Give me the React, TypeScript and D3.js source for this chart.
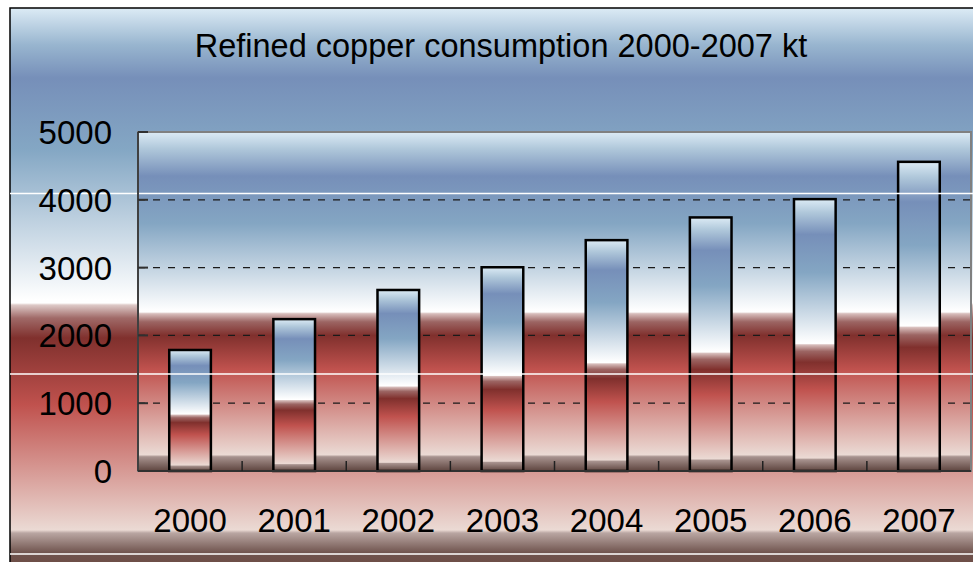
import React from 'react';
import * as d3 from 'd3';

const years = ['2000', '2001', '2002', '2003', '2004', '2005', '2006', '2007'];
const consumption = [1785, 2240, 2670, 3005, 3405, 3740, 4010, 4560];
const yTicks = [0, 1000, 2000, 3000, 4000, 5000];
const title = 'Refined copper consumption 2000-2007 kt';

const W = 973;
const H = 562;
const plot = { left: 138, right: 971, top: 132, bottom: 471 };

// gradient stops for plot area and bars (object bounding box)
const barStops: [number, string][] = [
  [0, '#DCEBF5'],
  [0.05, '#AFC7DA'],
  [0.13, '#768FB9'],
  [0.27, '#84A6C3'],
  [0.528, '#FFFFFF'],
  [0.531, '#FFFFFF'],
  [0.536, '#D8BEBC'],
  [0.56, '#9C6563'],
  [0.6, '#80302D'],
  [0.7, '#C0524E'],
  [0.952, '#EBDAD4'],
  [0.958, '#A8938F'],
  [1, '#5E453F'],
];

// outer chart area gradient (absolute y positions)
const outerStops: [number, string][] = [
  [8, '#DCEBF5'],
  [45, '#98B5CF'],
  [78, '#768FB9'],
  [150, '#84A7C4'],
  [300, '#FFFFFF'],
  [303, '#FFFFFF'],
  [305, '#DECAC8'],
  [318, '#A06A68'],
  [338, '#80302D'],
  [405, '#C0524E'],
  [530, '#EBDAD4'],
  [533, '#B9A6A2'],
  [553, '#6F534D'],
  [562, '#6E4F48'],
];

export default function App() {
  const x = d3
    .scaleBand<string>()
    .domain(years)
    .range([plot.left, plot.right])
    .paddingInner(0.6)
    .paddingOuter(0.3);
  const y = d3.scaleLinear().domain([0, 5000]).range([plot.bottom, plot.top]);
  const step = x.step();
  const font = "'Liberation Sans', Arial, Helvetica, sans-serif";

  const oy0 = 8;
  const oy1 = 562;

  return (
    <svg
      width={W}
      height={H}
      style={{ position: 'absolute', left: 0, top: 0, display: 'block' }}
      xmlns="http://www.w3.org/2000/svg"
    >
      <defs>
        <linearGradient id="outerGrad" gradientUnits="userSpaceOnUse" x1={0} y1={oy0} x2={0} y2={oy1}>
          {outerStops.map(([p, c], i) => (
            <stop key={i} offset={(p - oy0) / (oy1 - oy0)} stopColor={c} />
          ))}
        </linearGradient>
        <linearGradient id="barGrad" x1={0} y1={0} x2={0} y2={1}>
          {barStops.map(([p, c], i) => (
            <stop key={i} offset={p} stopColor={c} />
          ))}
        </linearGradient>
      </defs>
      <rect x={0} y={0} width={W} height={H} fill="#ffffff" />
      {/* outer chart area */}
      <rect x={10} y={8} width={W + 20} height={H + 20} fill="url(#outerGrad)" stroke="#000" strokeWidth={1.5} />

      {/* plot area */}
      <rect
        x={plot.left}
        y={plot.top}
        width={plot.right - plot.left}
        height={plot.bottom - plot.top}
        fill="url(#barGrad)"
        stroke="#808080"
        strokeWidth={2}
      />

      {/* gridlines */}
      {yTicks
        .filter((t) => t > 0 && t < 5000)
        .map((t) => (
          <line
            key={t}
            x1={plot.left}
            x2={plot.right}
            y1={y(t)}
            y2={y(t)}
            stroke="#1a1a1a"
            strokeWidth={1.2}
            strokeDasharray="7 8"
          />
        ))}

      {/* bars */}
      {years.map((yr, i) => (
        <rect
          key={yr}
          x={x(yr)!}
          y={y(consumption[i])}
          width={x.bandwidth()}
          height={y(0) - y(consumption[i])}
          fill="url(#barGrad)"
          stroke="#000"
          strokeWidth={2.5}
        />
      ))}

      {/* horizontal white seams */}
      {[193.5, 374, 554].map((yy) => (
        <line key={yy} x1={10} x2={W} y1={yy} y2={yy} stroke="#ffffff" strokeWidth={1.5} />
      ))}

      {/* axes */}
      <line x1={plot.left} x2={plot.left} y1={plot.top} y2={plot.bottom} stroke="#404040" strokeWidth={2} />
      <line x1={plot.left} x2={plot.right} y1={plot.bottom} y2={plot.bottom} stroke="#303030" strokeWidth={2} />
      {yTicks.map((t) => (
        <line key={'yt' + t} x1={plot.left} x2={plot.left + 10} y1={y(t)} y2={y(t)} stroke="#303030" strokeWidth={2} />
      ))}
      {d3.range(1, years.length).map((k) => (
        <line
          key={'xt' + k}
          x1={plot.left + k * step}
          x2={plot.left + k * step}
          y1={plot.bottom}
          y2={plot.bottom - 10}
          stroke="#202020"
          strokeWidth={1.5}
        />
      ))}

      {/* y labels */}
      {yTicks.map((t) => (
        <text
          key={'yl' + t}
          x={112}
          y={y(t) + 12}
          textAnchor="end"
          fontFamily={font}
          fontSize={33}
          fill="#000"
        >
          {t}
        </text>
      ))}

      {/* x labels */}
      {years.map((yr) => (
        <text
          key={'xl' + yr}
          x={x(yr)! + x.bandwidth() / 2}
          y={532}
          textAnchor="middle"
          fontFamily={font}
          fontSize={33}
          fill="#000"
        >
          {yr}
        </text>
      ))}

      {/* title */}
      <text x={501} y={57} textAnchor="middle" fontFamily={font} fontSize={32.5} fill="#000">
        {title}
      </text>
    </svg>
  );
}
